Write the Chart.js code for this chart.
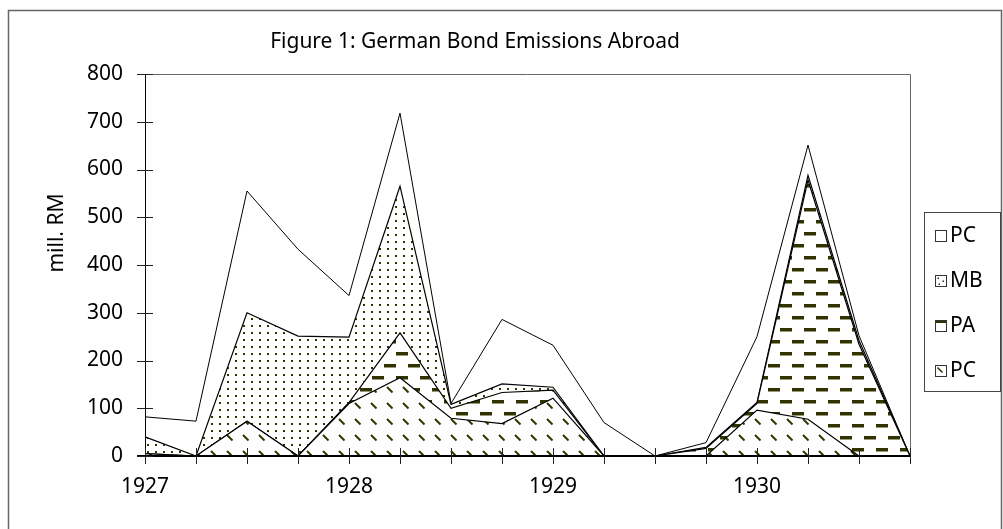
<!DOCTYPE html>
<html>
<head>
<meta charset="utf-8">
<title>German Bond Emissions Abroad</title>
<script src="https://cdn.jsdelivr.net/npm/chart.js@4"></script>
<style>
  html, body { margin: 0; padding: 0; background: #fff; }
  #wrap { width: 1003px; height: 529px; }
</style>
</head>
<body>
<div id="wrap"><canvas id="chart-area" width="1003" height="529"></canvas></div>
<script>
// Chart data (quarterly, mill. RM)
const quarters = [
  "1927 Q1", "1927 Q2", "1927 Q3", "1927 Q4",
  "1928 Q1", "1928 Q2", "1928 Q3", "1928 Q4",
  "1929 Q1", "1929 Q2", "1929 Q3", "1929 Q4",
  "1930 Q1", "1930 Q2", "1930 Q3", "1930 Q4",
];
const yearLabels = ["1927", "1928", "1929", "1930"];
const yTicks = [0, 100, 200, 300, 400, 500, 600, 700, 800];

// stacked bottom to top
const pcBase = [5, 0, 73, 0, 110, 164, 79, 68, 121, 0, 0, 0, 96, 77, 0, 0];
const paValues = [0, 0, 0, 0, 2, 94, 21, 65, 17, 0, 0, 16, 14, 501, 234, 0];
const mbValues = [35, 0, 227, 251, 137, 307, 8, 18, 6, 0, 0, 2, 2, 10, 8, 0];
const pcTop = [42, 73, 255, 182, 87, 153, 2, 135, 88, 70, 0, 10, 138, 63, 10, 0];

const INK = "#333300";
const FONT = "'Noto Sans', 'Open Sans', sans-serif";
const FONT_SIZE = 21;

function makePattern(w, h, paint) {
  const c = document.createElement("canvas");
  c.width = w;
  c.height = h;
  const g = c.getContext("2d");
  g.fillStyle = "#fff";
  g.fillRect(0, 0, w, h);
  g.fillStyle = INK;
  g.strokeStyle = INK;
  paint(g);
  return g.createPattern(c, "repeat");
}

const HATCH = makePattern(16, 16, (g) => {
  g.lineWidth = 2;
  g.beginPath();
  g.moveTo(3, 3);
  g.lineTo(8.5, 8.5);
  g.stroke();
});
const DOTS = makePattern(8, 7, (g) => g.fillRect(3, 3, 2, 2));
const DASHES = makePattern(24, 24, (g) => {
  g.fillRect(0, 4, 12, 3.5);
  g.fillRect(12, 16, 12, 3.5);
});

const lineStyle = {
  borderColor: "#000",
  borderWidth: 1.2,
  pointRadius: 0,
  tension: 0,
};

// Chart config
const DATA = {
  labels: quarters,
  datasets: [
    { label: "PC", data: pcBase, backgroundColor: HATCH, fill: "origin", ...lineStyle },
    { label: "PA", data: paValues, backgroundColor: DASHES, fill: "-1", ...lineStyle },
    { label: "MB", data: mbValues, backgroundColor: DOTS, fill: "-1", ...lineStyle },
    { label: "PC", data: pcTop, backgroundColor: "#fff", fill: "-1", ...lineStyle, borderWidth: 1 },
  ],
};

const decor = {
  id: "decor",
  afterDatasetsDraw(chart) {
    const { ctx, chartArea: a, scales } = chart;
    ctx.save();
    // plot frame
    ctx.strokeStyle = "#666";
    ctx.lineWidth = 1;
    ctx.beginPath();
    ctx.moveTo(a.left, a.top + 0.5);
    ctx.lineTo(a.right + 0.5, a.top + 0.5);
    ctx.lineTo(a.right + 0.5, a.bottom);
    ctx.stroke();
    // axes
    ctx.strokeStyle = "#000";
    ctx.beginPath();
    ctx.moveTo(a.left + 0.5, a.top);
    ctx.lineTo(a.left + 0.5, a.bottom);
    ctx.stroke();
    ctx.lineWidth = 2;
    ctx.beginPath();
    ctx.moveTo(a.left - 8, a.bottom);
    ctx.lineTo(a.right + 1, a.bottom);
    ctx.stroke();
    // tick marks crossing the axes
    ctx.lineWidth = 1;
    ctx.strokeStyle = "#222";
    ctx.beginPath();
    yTicks.forEach((v) => {
      const py = Math.round(scales.y.getPixelForValue(v)) + 0.5;
      ctx.moveTo(a.left - 8, py);
      ctx.lineTo(a.left + 8, py);
    });
    quarters.forEach((q, i) => {
      const px = Math.round(scales.x.getPixelForValue(i)) + 0.5;
      ctx.moveTo(px, a.bottom - 8);
      ctx.lineTo(px, a.bottom + 8);
    });
    ctx.stroke();
    ctx.restore();
  },
  afterDraw(chart) {
    const { ctx } = chart;
    ctx.save();
    // outer frame
    ctx.strokeStyle = "#666";
    ctx.lineWidth = 1.5;
    ctx.strokeRect(8.5, 10.5, 993, 600);

    ctx.fillStyle = "#000";
    ctx.font = FONT_SIZE + "px " + FONT;
    ctx.textBaseline = "middle";
    ctx.textAlign = "center";
    ctx.fillText("Figure 1: German Bond Emissions Abroad", 475, 42);

    ctx.save();
    ctx.translate(57, 233);
    ctx.rotate(-Math.PI / 2);
    ctx.fillText("mill. RM", 0, 0);
    ctx.restore();

    // legend, top series first
    ctx.strokeStyle = "#444";
    ctx.lineWidth = 1;
    ctx.strokeRect(924.5, 212.5, 76, 179);
    const ds = chart.data.datasets.slice().reverse();
    ds.forEach((d, i) => {
      const cy = 236 + i * 45;
      const sx = 935.5, sy = cy - 5.5;
      ctx.fillStyle = "#fff";
      ctx.fillRect(sx, sy, 11, 11);
      ctx.strokeStyle = "#333";
      ctx.lineWidth = 1;
      if (d.backgroundColor === DOTS) {
        ctx.fillStyle = INK;
        ctx.fillRect(sx + 2, sy + 2, 1.5, 1.5);
        ctx.fillRect(sx + 7, sy + 5, 1.5, 1.5);
        ctx.fillRect(sx + 3, sy + 8, 1.5, 1.5);
      } else if (d.backgroundColor === HATCH) {
        ctx.strokeStyle = INK;
        ctx.lineWidth = 1.5;
        ctx.beginPath();
        ctx.moveTo(sx + 2, sy + 2);
        ctx.lineTo(sx + 7, sy + 7);
        ctx.stroke();
        ctx.strokeStyle = "#333";
        ctx.lineWidth = 1;
      } else if (d.backgroundColor === DASHES) {
        ctx.fillStyle = INK;
        ctx.fillRect(sx, sy, 11, 2.5);
      }
      ctx.strokeRect(sx, sy, 11, 11);
      ctx.fillStyle = "#000";
      ctx.textAlign = "left";
      ctx.fillText(d.label, 950, cy);
    });
    ctx.restore();
  },
};

const CONFIG = {
  type: "line",
  data: DATA,
  options: {
    responsive: false,
    animation: false,
    layout: { padding: { top: 74, right: 93, bottom: 0, left: 0 } },
    plugins: {
      legend: { display: false },
      title: { display: false },
      tooltip: { enabled: false },
    },
    scales: {
      x: {
        border: { display: false },
        grid: { display: false, drawTicks: false },
        afterFit: (scale) => { scale.height = 73; },
        ticks: {
          autoSkip: false,
          maxRotation: 0,
          padding: 18,
          color: "#000",
          font: { family: FONT, size: FONT_SIZE },
          callback: (v, i) => (i % 4 === 0 ? yearLabels[i / 4] : ""),
        },
      },
      y: {
        stacked: true,
        min: 0,
        max: 800,
        border: { display: false },
        grid: { display: false, drawTicks: false },
        afterFit: (scale) => { scale.width = 145; },
        ticks: {
          stepSize: 100,
          padding: 22,
          color: "#000",
          font: { family: FONT, size: FONT_SIZE },
        },
      },
    },
  },
  plugins: [decor],
};

new Chart(document.getElementById("chart-area"), CONFIG);
</script>
</body>
</html>
